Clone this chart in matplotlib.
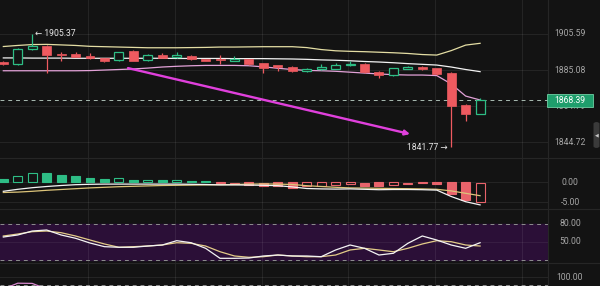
import matplotlib
matplotlib.use('Agg')
import matplotlib.pyplot as plt
from matplotlib.patches import Rectangle, FancyBboxPatch
from matplotlib.lines import Line2D
from matplotlib.transforms import blended_transform_factory
import numpy as np

# ---------------- data ----------------
opens = [1889.8, 1888.3, 1896.9, 1898.7, 1894.0, 1894.1, 1893.0, 1891.7, 1890.5, 1895.6,
         1890.7, 1893.5, 1892.2, 1893.1, 1891.3, 1891.1, 1890.3, 1891.1, 1888.9, 1887.7,
         1886.9, 1884.4, 1885.5, 1885.7, 1887.7, 1888.6, 1884.0, 1882.3, 1885.9, 1886.6,
         1886.1, 1883.6, 1865.3, 1860.6]
highs = [1890.2, 1897.5, 1905.37, 1899.0, 1895.3, 1895.0, 1894.5, 1892.0, 1895.3, 1896.2,
         1894.0, 1894.6, 1895.0, 1893.6, 1891.5, 1893.7, 1893.0, 1891.4, 1889.3, 1888.0,
         1887.2, 1886.2, 1888.7, 1889.3, 1889.9, 1889.0, 1884.3, 1886.4, 1887.6, 1887.6,
         1886.4, 1883.8, 1866.0, 1869.6]
lows = [1887.9, 1887.8, 1896.6, 1883.6, 1890.3, 1892.3, 1891.5, 1889.6, 1890.2, 1889.9,
        1890.4, 1891.8, 1892.0, 1891.0, 1890.1, 1888.6, 1890.1, 1887.9, 1883.4, 1884.6,
        1883.8, 1884.2, 1885.3, 1885.5, 1887.5, 1883.5, 1880.9, 1882.0, 1885.6, 1884.9,
        1882.4, 1841.77, 1856.7, 1860.4]
closes = [1888.3, 1896.9, 1898.7, 1893.5, 1893.6, 1892.6, 1891.8, 1890.2, 1895.0, 1890.2,
          1893.5, 1892.0, 1893.4, 1891.3, 1890.3, 1890.5, 1891.1, 1888.5, 1886.4, 1886.8,
          1884.4, 1885.7, 1886.9, 1888.1, 1888.6, 1883.8, 1882.3, 1886.1, 1886.8, 1885.7,
          1882.7, 1865.1, 1860.6, 1868.39]

boll_upper = [1898.3, 1898.9, 1899.4, 1899.5, 1899.2, 1898.9, 1898.4, 1898.2, 1898.0, 1897.8,
              1897.6, 1897.6, 1897.6, 1897.7, 1897.8, 1898.0, 1898.0, 1898.1, 1898.2, 1898.2,
              1898.2, 1897.7, 1896.6, 1895.9, 1895.6, 1895.4, 1895.1, 1894.8, 1894.4, 1893.8,
              1893.5, 1896.0, 1899.1, 1900.1]
boll_mid = [1891.9, 1891.9, 1891.8, 1891.8, 1891.8, 1891.7, 1891.7, 1891.7, 1891.7, 1891.7,
            1891.7, 1891.7, 1891.6, 1891.6, 1891.6, 1891.6, 1891.5, 1891.5, 1891.5, 1891.4,
            1891.3, 1891.1, 1890.8, 1890.6, 1890.3, 1889.9, 1889.6, 1889.2, 1888.7, 1888.3,
            1887.9, 1886.8, 1885.4, 1884.2]
boll_lower = [1884.7, 1884.7, 1884.7, 1884.7, 1884.7, 1884.7, 1884.8, 1885.1, 1885.4, 1885.7,
              1886.2, 1886.8, 1887.2, 1887.5, 1887.7, 1887.7, 1887.7, 1887.5, 1886.9, 1886.1,
              1885.4, 1884.9, 1884.7, 1884.4, 1883.9, 1883.4, 1882.9, 1882.5, 1882.3, 1882.3,
              1882.0, 1877.3, 1870.5, 1868.3]

macd_hist = [0.75, 1.7, 2.45, 2.3, 1.9, 1.5, 1.2, 0.9, 1.05, 0.55, 0.6, 0.55, 0.6, 0.4, 0.25,
             -0.2, -0.3, -0.6, -0.8, -0.9, -1.45, -0.9, -0.85, -0.75, -0.45, -0.8, -1.0, -0.6,
             -0.3, -0.25, -0.4, -2.9, -4.4, -4.8]
macd_dif = [-2.2, -1.7, -1.3, -1.0, -0.75, -0.55, -0.45, -0.4, -0.4, -0.4, -0.4, -0.4, -0.4,
            -0.45, -0.5, -0.6, -0.6, -0.65, -0.7, -0.8, -1.1, -1.5, -1.6, -1.65, -1.6, -1.7,
            -1.8, -1.75, -1.75, -1.8, -1.9, -3.5, -4.8, -5.6]
macd_dea = [-2.5, -2.4, -2.2, -1.95, -1.75, -1.55, -1.35, -1.2, -1.05, -0.95, -0.85, -0.75,
            -0.7, -0.65, -0.6, -0.55, -0.5, -0.4, -0.35, -0.4, -0.5, -0.8, -1.0, -1.2, -1.35,
            -1.4, -1.45, -1.5, -1.55, -1.6, -1.7, -2.1, -2.7, -3.3]

rsi_fast = [58.3, 61.7, 68.3, 70.0, 61.7, 56.2, 48.3, 42.2, 41.2, 41.2, 43.3, 45.0, 52.2, 48.8,
            39.5, 22.8, 22.8, 23.3, 26.7, 28.3, 26.7, 26.7, 25.5, 36.7, 45.0, 39.5, 28.3, 31.2,
            47.8, 60.0, 53.3, 45.0, 39.5, 48.8]
rsi_slow = [60.0, 63.3, 67.2, 68.3, 65.5, 60.0, 53.3, 46.7, 41.2, 42.2, 43.3, 45.0, 48.8, 47.8,
            43.3, 33.8, 26.7, 24.5, 25.5, 28.3, 26.7, 25.5, 25.5, 28.3, 36.7, 39.5, 36.7, 33.8,
            39.5, 46.7, 52.2, 50.5, 45.0, 43.3]

osc_vals = [70.0, 84.5, 84.0, 70.0]

price_ticks = [1926.10, 1905.59, 1885.08, 1864.79, 1844.72]
price_labels = ['1926.10', '1905.59', '1885.08', '1864.79', '1844.72']
macd_ticks = [0.0, -5.0]
macd_labels = ['0.00', '-5.00']
rsi_ticks = [80, 50]
rsi_labels = ['80.00', '50.00']
rsi_band = (20, 80)
osc_ticks = [100]
osc_labels = ['100.00']
osc_dash = 80
last_price = 1868.39
trend_start = (8.63, 1886.2)
trend_end = (28.15, 1849.2)

# ---------------- style ----------------
BG = '#131313'
GRID = '#262626'
TXT = '#a6a6a6'
GREEN = '#2ebd85'
RED = '#ee5a60'
FONT = ['Roboto', 'DejaVu Sans']
plt.rcParams['font.family'] = FONT

W, H = 600, 286
PR = 548  # plot right edge (px)

def rect(x0, y0, x1, y1):
    return [x0 / W, 1 - y1 / H, (x1 - x0) / W, (y1 - y0) / H]

fig = plt.figure(figsize=(6, 2.86), dpi=100, facecolor=BG)
ax_main = fig.add_axes(rect(0, 0, PR, 158))
ax_macd = fig.add_axes(rect(0, 158, PR, 209))
ax_rsi = fig.add_axes(rect(0, 209, PR, 263))
ax_osc = fig.add_axes(rect(0, 263, PR, 286))

n = len(closes)
x = np.arange(n)
XLIM = (-0.23, 37.7)
vgrid = np.arange(5.87, 37.7, 6.0)

for ax in (ax_main, ax_macd, ax_rsi, ax_osc):
    ax.set_facecolor(BG)
    for s in ax.spines.values():
        s.set_visible(False)
    ax.set_xticks([])
    ax.set_yticks([])
    ax.set_xlim(*XLIM)
    for v in vgrid:
        ax.axvline(v, color='white', alpha=0.075, lw=0.8, zorder=1)

ax_main.set_ylim(1835.75, 1924.4)
ax_macd.set_ylim(-6.625, 6.125)
ax_rsi.set_ylim(15, 105)
ax_osc.set_ylim(77.5, 135)

def right_label(ax, y, s, color=TXT, z=2):
    tr = blended_transform_factory(ax.transAxes, ax.transData)
    ax.text(570 / PR, y, s, transform=tr, ha='center', va='center', fontsize=6.2,
            color=color, clip_on=False, zorder=z)

# ---- main panel ----
for p, lab in zip(price_ticks, price_labels):
    ax_main.axhline(p, color='white', alpha=0.075, lw=0.8, zorder=1)
    right_label(ax_main, p, lab)

ax_main.plot(x, boll_upper, color='#e4dea4', lw=0.9, zorder=3)
ax_main.plot(x, boll_mid, color='#f2f2f2', lw=0.9, zorder=3)
ax_main.plot(x, boll_lower, color='#e3a2d8', lw=0.9, zorder=3)

bw = 0.62
for i in range(n):
    o, h, l, c = opens[i], highs[i], lows[i], closes[i]
    up = c >= o
    col = GREEN if up else RED
    top, bot = max(o, c), min(o, c)
    ax_main.vlines(i, top, h, color=col, lw=0.9, zorder=4)
    ax_main.vlines(i, l, bot, color=col, lw=0.9, zorder=4)
    if up:
        ax_main.add_patch(Rectangle((i - bw / 2, bot), bw, max(top - bot, 0.25),
                                    facecolor=BG, edgecolor=col, lw=0.9, zorder=5))
    else:
        ax_main.add_patch(Rectangle((i - bw / 2, bot), bw, max(top - bot, 0.25),
                                    facecolor=col, edgecolor=col, lw=0.5, zorder=5))

ax_main.axhline(last_price, color='#a9bcb2', lw=0.7, ls=(0, (4, 4)), zorder=2)

hi_i = int(np.argmax(highs))
lo_i = int(np.argmin(lows))
ax_main.annotate('\u2190 ' + f'{highs[hi_i]:.2f}', xy=(hi_i, highs[hi_i]), xytext=(2.2, 0),
                 textcoords='offset points', ha='left', va='center', fontsize=6.2,
                 color='#e8e8e8', zorder=6)
ax_main.annotate(f'{lows[lo_i]:.2f}' + ' \u2192', xy=(lo_i, lows[lo_i]), xytext=(-2.6, 0),
                 textcoords='offset points', ha='right', va='center', fontsize=6.2,
                 color='#e8e8e8', zorder=6, annotation_clip=False)

ax_main.annotate('', xy=trend_end, xytext=trend_start,
                 arrowprops=dict(arrowstyle='-|>', color='#e040dc', lw=1.7,
                                 mutation_scale=7, shrinkA=0, shrinkB=0), zorder=6)

# ---- MACD panel ----
for t, lab in zip(macd_ticks, macd_labels):
    ax_macd.axhline(t, color='white', alpha=0.075, lw=0.8, zorder=1)
    right_label(ax_macd, t, lab)

for i, hv in enumerate(macd_hist):
    prev = macd_hist[i - 1] if i > 0 else None
    if hv >= 0:
        col = GREEN
        hollow = prev is not None and prev >= 0 and hv > prev
    else:
        col = '#e8636b'
        hollow = prev is not None and prev < 0 and hv > prev
    if i == n - 1:
        hollow = True
    ax_macd.add_patch(Rectangle((i - bw / 2, min(0, hv)), bw, abs(hv),
                                facecolor=BG if hollow else col, edgecolor=col,
                                lw=0.8, zorder=3))
ax_macd.plot(x, macd_dea, color='#dcc47a', lw=0.9, zorder=4)
ax_macd.plot(x, macd_dif, color='#f4f4f4', lw=0.9, zorder=4)

# ---- RSI panel ----
ax_rsi.axhspan(rsi_band[0], rsi_band[1], color='#2b0f37', zorder=0.5)
for b in rsi_band:
    ax_rsi.axhline(b, color='#8e8e8e', lw=0.7, ls=(0, (4, 4)), zorder=2)
ax_rsi.axhline(50, color='white', alpha=0.06, lw=0.8, zorder=1)
for t, lab in zip(rsi_ticks, rsi_labels):
    right_label(ax_rsi, t, lab)
ax_rsi.plot(x, rsi_slow, color='#e3cc88', lw=0.9, zorder=3)
ax_rsi.plot(x, rsi_fast, color='#f4f4f4', lw=0.9, zorder=4)

# ---- bottom oscillator panel ----
for t, lab in zip(osc_ticks, osc_labels):
    ax_osc.axhline(t, color='white', alpha=0.075, lw=0.8, zorder=1)
    right_label(ax_osc, t, lab)
ax_osc.axhline(osc_dash, color='#8e8e8e', lw=0.7, ls=(0, (4, 4)), zorder=2)
ax_osc.plot(np.arange(len(osc_vals)), osc_vals, color='#d98ad0', lw=0.9, zorder=3)

# ---- separators and right-hand widgets ----
for yy in (158, 209, 263):
    fig.add_artist(Line2D([0, 1], [1 - yy / H] * 2, color=GRID, lw=0.8, zorder=1))
fig.add_artist(Line2D([PR / W] * 2, [0, 1], color=GRID, lw=0.8, zorder=1))

fig.add_artist(Rectangle((547 / W, 1 - 107 / H), 46 / W, 13 / H, transform=fig.transFigure,
                         facecolor='#1f9e6c', edgecolor='#6fd0a4', lw=0.6, zorder=5))
fig.text(570 / W, 1 - 100.5 / H, f'{last_price:.2f}', ha='center', va='center',
         fontsize=6.2, color='white', zorder=6)

fig.add_artist(FancyBboxPatch((593.5 / W, 1 - 148 / H), 6 / W, 26 / H,
                              boxstyle='round,pad=0,rounding_size=0.006',
                              transform=fig.transFigure, facecolor='#3a3a3a',
                              edgecolor='none', zorder=5))
fig.text(597 / W, 1 - 135 / H, '\u25c0', ha='center', va='center', fontsize=3.5,
         color='#c8c8c8', zorder=6, family=['DejaVu Sans'])

fig.savefig('out.png', dpi=100, facecolor=BG)
